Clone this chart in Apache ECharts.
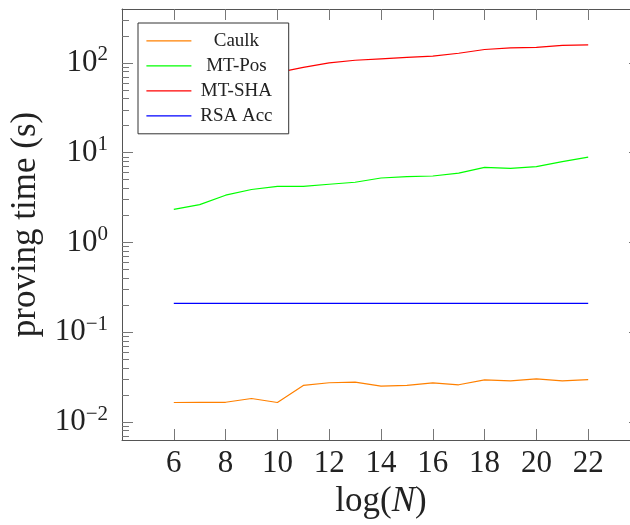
<!DOCTYPE html>
<html>
<head>
<meta charset="utf-8">
<script src="https://cdn.jsdelivr.net/npm/echarts@6/dist/echarts.min.js"></script>
<style>html,body{margin:0;padding:0;background:#fff}#c{width:630px;height:525px}</style>
</head>
<body>
<div id="c"></div>
<script>
// ---- data ----
const logN = [6, 7, 8, 9, 10, 11, 12, 13, 14, 15, 16, 17, 18, 19, 20, 21, 22];
const caulk = [0.0165, 0.0166, 0.0166, 0.0183, 0.0165, 0.0256, 0.0274, 0.0278, 0.0251, 0.0256, 0.0273, 0.0260, 0.0295, 0.0288, 0.0303, 0.0288, 0.0297];
const mtPos = [2.34, 2.64, 3.36, 3.89, 4.22, 4.22, 4.45, 4.68, 5.22, 5.41, 5.50, 5.93, 6.87, 6.69, 6.99, 7.94, 8.93];
const mtSha = [45, 52, 60, 68, 78, 89, 100, 107, 111, 115, 119, 128, 141, 147, 149, 157, 158.5];
const rsaAcc = [0.21, 0.21, 0.21, 0.21, 0.21, 0.21, 0.21, 0.21, 0.21, 0.21, 0.21, 0.21, 0.21, 0.21, 0.21, 0.21, 0.21];
const seriesNames = ['Caulk', 'MT-Pos', 'MT-SHA', 'RSA Acc'];
const seriesColors = ['#ff8000', '#00ff00', '#ff0000', '#0000ff'];
const xTickLabels = [6, 8, 10, 12, 14, 16, 18, 20, 22];
const yMajorTicks = [0.01, 0.1, 1, 10, 100];
const yMinorTicks = [0.007, 0.008, 0.009,
  0.02, 0.03, 0.04, 0.05, 0.06, 0.07, 0.08, 0.09,
  0.2, 0.3, 0.4, 0.5, 0.6, 0.7, 0.8, 0.9,
  2, 3, 4, 5, 6, 7, 8, 9,
  20, 30, 40, 50, 60, 70, 80, 90,
  200, 300];

const FONT = '"Liberation Serif", "DejaVu Serif", serif';
const axisColor = '#555';
const tickColor = '#777';
const yMin = Math.pow(10, -2.2), yMax = Math.pow(10, 2.6);

function pair(vals) { return logN.map((x, i) => [x, vals[i]]); }
function supLabel(v) {
  const e = Math.round(Math.log10(v));
  const s = e < 0 ? '\u2212' + (-e) : String(e);
  return '{b|10}{s|' + s + '}';
}

const chart = echarts.init(document.getElementById('c'), null, {renderer: 'canvas'});
const baseY = {
  type: 'log', logBase: 10, min: yMin, max: yMax,
  splitLine: {show: false}
};
const allSeries = [caulk, mtPos, mtSha, rsaAcc].map((vals, i) => ({
  name: seriesNames[i], type: 'line', data: pair(vals),
  xAxisIndex: 0, yAxisIndex: 0, symbol: 'none', showSymbol: false,
  color: seriesColors[i],
  lineStyle: {width: 1.2, color: seriesColors[i]}, itemStyle: {color: seriesColors[i]}
}));
chart.setOption({
  animation: false,
  backgroundColor: '#fff',
  grid: {left: 122, top: 9, width: 518, height: 431, containLabel: false, outerBoundsMode: 'none'},
  legend: {
    orient: 'vertical', left: 138, top: 23,
    padding: [8.4, 12.3, 8.4, 8.4],
    itemWidth: 45, itemHeight: 1.3, itemGap: 6,
    backgroundColor: '#fff', borderColor: '#333', borderWidth: 1,
    data: seriesNames.map(n => ({name: n, icon: 'rect'})),
    formatter: n => '{c|' + n + '}',
    textStyle: {
      rich: {c: {fontFamily: FONT, fontSize: 19, color: '#222', width: 80, align: 'center', lineHeight: 20}}
    },
    z: 10
  },
  xAxis: [{
    type: 'value', min: 4, max: 24, interval: 2, position: 'bottom',
    name: '{n|log(}{i|N}{n|)}', nameLocation: 'middle', nameGap: 37,
    nameTextStyle: {rich: {
      n: {fontFamily: FONT, fontSize: 35, color: '#222'},
      i: {fontFamily: FONT, fontSize: 35, color: '#222', fontStyle: 'italic'}
    }},
    axisLine: {show: true, onZero: false, lineStyle: {color: axisColor, width: 1}},
    axisTick: {show: true, inside: true, length: 11, customValues: xTickLabels, lineStyle: {color: tickColor}},
    axisLabel: {customValues: xTickLabels, margin: 8, fontFamily: FONT, fontSize: 31, color: '#222'},
    splitLine: {show: false}
  }, {
    type: 'value', min: 4, max: 24, interval: 2, position: 'top',
    axisLine: {show: true, onZero: false, lineStyle: {color: axisColor, width: 1}},
    axisTick: {show: true, inside: true, length: 11, customValues: xTickLabels, lineStyle: {color: tickColor}},
    axisLabel: {show: false},
    splitLine: {show: false}
  }],
  yAxis: [Object.assign({}, baseY, {
    position: 'left',
    name: 'proving time (s)', nameLocation: 'middle', nameGap: 76,
    nameTextStyle: {fontFamily: FONT, fontSize: 35, color: '#222'},
    axisLine: {show: true, onZero: false, lineStyle: {color: axisColor, width: 1}},
    axisTick: {show: true, inside: true, length: 11, customValues: yMajorTicks, lineStyle: {color: tickColor}},
    axisLabel: {
      customValues: yMajorTicks, margin: 14, formatter: supLabel,
      rich: {
        b: {fontFamily: FONT, fontSize: 31, color: '#222'},
        s: {fontFamily: FONT, fontSize: 21, color: '#222', padding: [0, 0, 16, 0]}
      }
    }
  }), Object.assign({}, baseY, {
    position: 'left',
    axisLine: {show: false},
    axisTick: {show: true, inside: true, length: 7, customValues: yMinorTicks, lineStyle: {color: tickColor}},
    axisLabel: {show: false}
  }), Object.assign({}, baseY, {
    position: 'right',
    axisLine: {show: true, onZero: false, lineStyle: {color: axisColor, width: 1}},
    axisTick: {show: true, inside: true, length: 11, customValues: yMajorTicks, lineStyle: {color: tickColor}},
    axisLabel: {show: false}
  })],
  series: allSeries
});
</script>
</body>
</html>
